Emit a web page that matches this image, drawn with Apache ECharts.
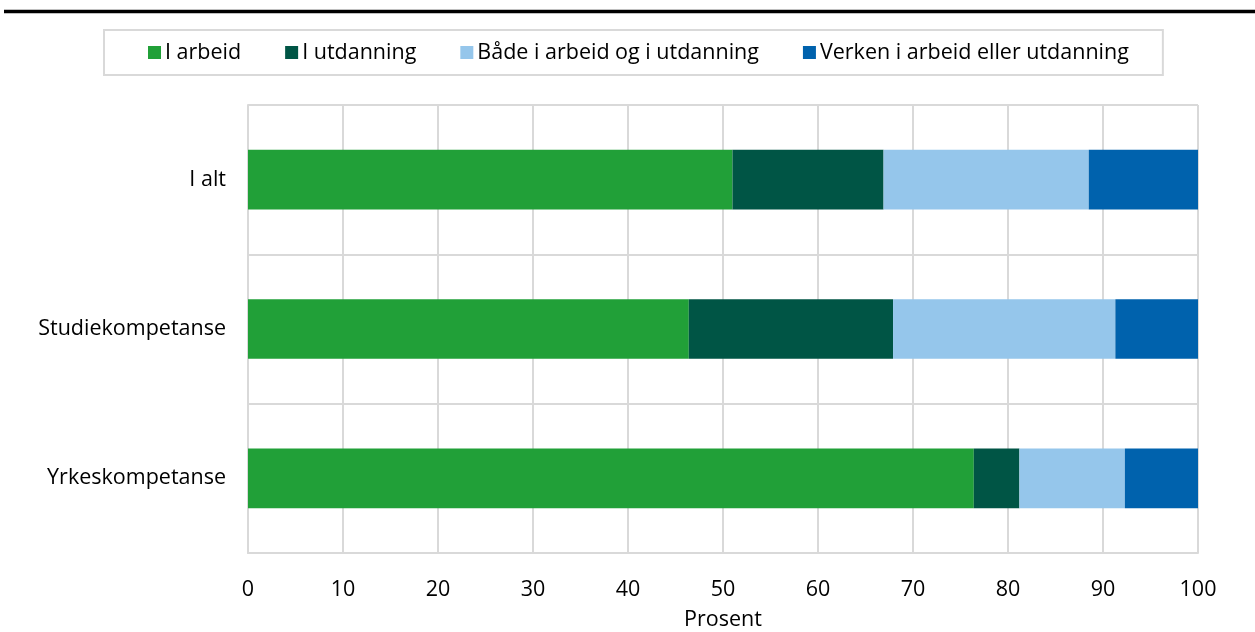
<!DOCTYPE html>
<html>
<head>
<meta charset="utf-8">
<script src="https://cdn.jsdelivr.net/npm/echarts@6/dist/echarts.min.js"></script>
<style>
html,body{margin:0;padding:0;background:#fff;}
#chart{width:1255px;height:632px;}
</style>
</head>
<body>
<div id="chart"></div>
<script>
const categories = ['I alt', 'Studiekompetanse', 'Yrkeskompetanse'];
const seriesNames = ['I arbeid', 'I utdanning', 'Både i arbeid og i utdanning', 'Verken i arbeid eller utdanning'];
const iArbeid = [51.0, 46.4, 76.4];
const iUtdanning = [15.9, 21.5, 4.8];
const baade = [21.6, 23.4, 11.1];
const verken = [11.5, 8.7, 7.7];
const xTicks = [0, 10, 20, 30, 40, 50, 60, 70, 80, 90, 100];
const colors = ['#21a038', '#005545', '#95c6eb', '#0062ad'];

const values = [iArbeid, iUtdanning, baade, verken];
const font = '"Open Sans", "Noto Sans", sans-serif';
const fs = 21.5;

const chart = echarts.init(document.getElementById('chart'), null, {renderer: 'canvas'});
chart.setOption({
  animation: false,
  textStyle: {fontFamily: font},
  graphic: [{
    type: 'line',
    shape: {x1: 4, y1: 11.5, x2: 1255, y2: 11.5},
    style: {stroke: '#000', lineWidth: 3.5}
  }],
  legend: {
    left: 104,
    top: 30,
    padding: [11, 34, 11, 44],
    borderColor: '#d9d9d9',
    borderWidth: 2,
    itemWidth: 13,
    itemHeight: 13,
    itemGap: 44,
    icon: 'rect',
    textStyle: {fontFamily: font, fontSize: fs, lineHeight: 23, color: '#000', padding: [0, 0, 0, -1]},
    data: seriesNames
  },
  grid: {left: 248, right: 57, top: 105, bottom: 79, containLabel: false, outerBoundsMode: 'none'},
  xAxis: {
    type: 'value',
    min: 0,
    max: 100,
    interval: 10,
    name: 'Prosent',
    nameLocation: 'middle',
    nameGap: 56,
    nameMoveOverlap: false,
    nameTextStyle: {fontFamily: font, fontSize: fs, color: '#000'},
    axisLine: {show: true, lineStyle: {color: '#d9d9d9', width: 2}},
    axisTick: {show: false},
    axisLabel: {
      margin: 26, fontFamily: font, fontSize: fs, color: '#000',
      formatter: v => xTicks.includes(v) ? String(v) : ''
    },
    splitLine: {show: true, lineStyle: {color: '#d9d9d9', width: 2}}
  },
  yAxis: {
    type: 'category',
    inverse: true,
    data: categories,
    axisLine: {show: true, lineStyle: {color: '#d9d9d9', width: 2}},
    axisTick: {show: false},
    axisLabel: {margin: 22, fontFamily: font, fontSize: fs, color: '#000'},
    splitLine: {show: true, lineStyle: {color: '#d9d9d9', width: 2}}
  },
  series: seriesNames.map((name, i) => ({
    name: name,
    type: 'bar',
    stack: 'total',
    barWidth: '40%',
    itemStyle: {color: colors[i]},
    data: values[i]
  }))
});
</script>
</body>
</html>
